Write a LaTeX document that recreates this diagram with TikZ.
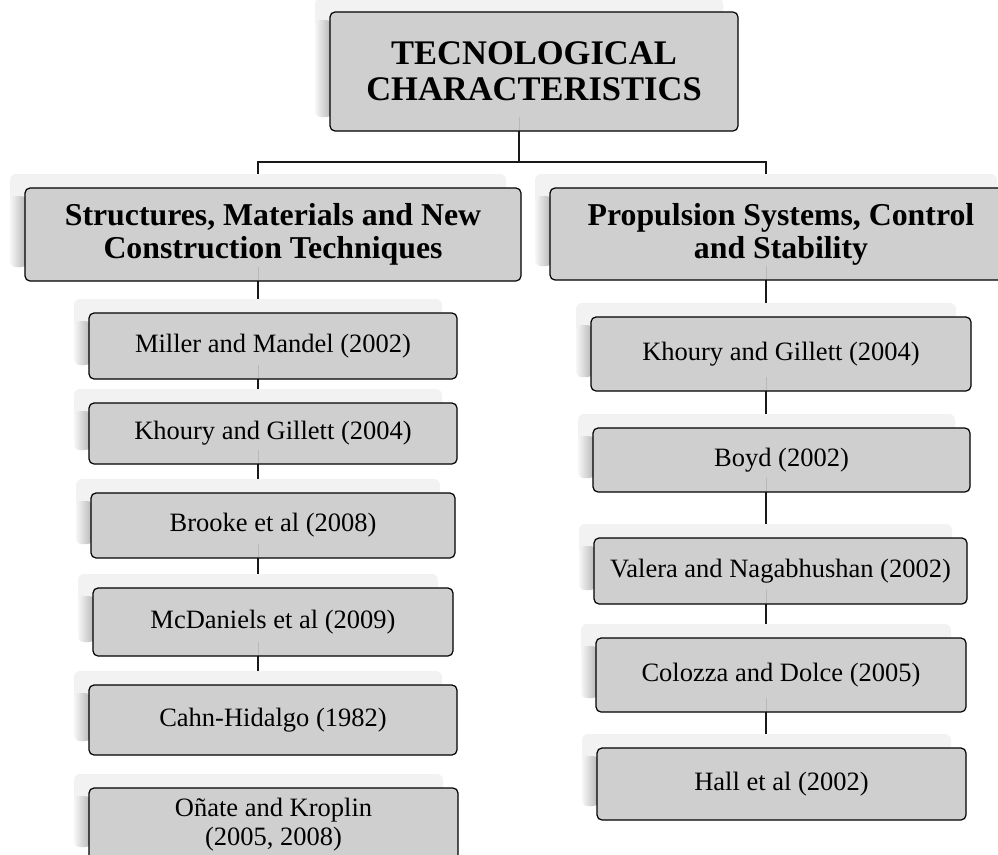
\documentclass[tikz,border=0pt]{standalone}
\usepackage{fontspec}
\setmainfont{Liberation Serif}
\usetikzlibrary{calc}
\pgfdeclarelayer{bg}
\pgfdeclarelayer{shad}
\pgfsetlayers{bg,shad,main}
\definecolor{boxfill}{RGB}{207,207,207}
\definecolor{linec}{RGB}{25,25,25}
\tikzset{
  box/.style={draw=black, line width=1.2pt, fill=boxfill, rounded corners=5pt,
    inner sep=0pt, outer sep=0pt, align=center, text=black},
  toptext/.style={font=\fontsize{34.5}{36}\selectfont\bfseries},
  midtext/.style={font=\fontsize{31.8}{33}\selectfont\bfseries},
  leaftext/.style={font=\fontsize{26.5}{29}\selectfont},
  conn/.style={draw=linec, line width=1.3pt},
  ghost/.style={draw=black!28, line width=1pt},
  shadowfill/.style={fill=black!5, rounded corners=6pt},
  shadowedge/.style={left color=black!3, right color=black!30, rounded corners=6pt},
}
% #1 name, #2 x1, #3 y1, #4 x2, #5 y2, #6 text style, #7 text
\newcommand\mkbox[7]{%
  \begin{pgfonlayer}{shad}
    \fill[shadowfill] (#2-15,#3-14) rectangle (#4-15,#5-14);
    \shade[shadowedge] (#2-15,#3+8) rectangle (#2+2,#5-14);
  \end{pgfonlayer}
  \node[box,#6,minimum width=#4pt-#2pt,minimum height=#5pt-#3pt]
    (#1) at ({(#2+#4)/2},{(#3+#5)/2}) {#7};
}
% connector from the bottom of node #2 to the top of node #3 along the column of coordinate #1
\newcommand\link[3]{%
  \begin{pgfonlayer}{bg}
    \draw[conn] (#1 |- #2.south) -- (#1 |- #3.north);
  \end{pgfonlayer}
  \draw[ghost] ($(#1 |- #2.south)+(0,-14)$) -- ($(#1 |- #2.south)+(0,-1)$);
}
\begin{document}
\begin{tikzpicture}[x=1pt,y=-1pt]
\path[use as bounding box] (0,0) rectangle (998,854);
\clip (0,0) rectangle (998,854);

% level 0
\mkbox{top}{330}{12}{738}{131}{toptext}{TECNOLOGICAL\\CHARACTERISTICS}
% level 1
\mkbox{L}{25}{188}{521}{281}{midtext}{Structures, Materials and New\\Construction Techniques}
\mkbox{R}{550}{188}{1012}{280}{midtext}{Propulsion Systems, Control\\and Stability}
% left leaves
\mkbox{l1}{89}{313}{457}{379}{leaftext}{Miller and Mandel (2002)}
\mkbox{l2}{89}{403}{457}{464}{leaftext}{Khoury and Gillett (2004)}
\mkbox{l3}{91}{493}{455}{558}{leaftext}{Brooke et al (2008)}
\mkbox{l4}{93}{588}{453}{656}{leaftext}{McDaniels et al (2009)}
\mkbox{l5}{89}{685}{457}{755}{leaftext}{Cahn-Hidalgo (1982)}
\mkbox{l6}{89}{788}{458}{861}{leaftext}{Oñate and Kroplin\\(2005, 2008)}
% right leaves
\mkbox{r1}{591}{317}{971}{391}{leaftext}{Khoury and Gillett (2004)}
\mkbox{r2}{593}{428}{970}{492}{leaftext}{Boyd (2002)}
\mkbox{r3}{594}{538}{967}{604}{leaftext}{Valera and Nagabhushan (2002)}
\mkbox{r4}{596}{638}{966}{712}{leaftext}{Colozza and Dolce (2005)}
\mkbox{r5}{597}{748}{966}{820}{leaftext}{Hall et al (2002)}

\coordinate (jT) at (519,162);
\coordinate (jL) at (258,162);
\coordinate (jR) at (766,162);

\begin{pgfonlayer}{bg}
  \draw[conn] (jT |- top.south) -- (jT);
  \draw[conn] (jL |- L.north) -- (jL) -- (jR) -- (jR |- R.north);
\end{pgfonlayer}
\draw[ghost] ($(jT |- top.south)+(0,-14)$) -- ($(jT |- top.south)+(0,-1)$);

\link{jL}{L}{l1}
\link{jL}{l1}{l2}
\link{jL}{l2}{l3}
\link{jL}{l3}{l4}
\link{jL}{l4}{l5}
\link{jR}{R}{r1}
\link{jR}{r1}{r2}
\link{jR}{r2}{r3}
\link{jR}{r3}{r4}
\link{jR}{r4}{r5}
\end{tikzpicture}
\end{document}
